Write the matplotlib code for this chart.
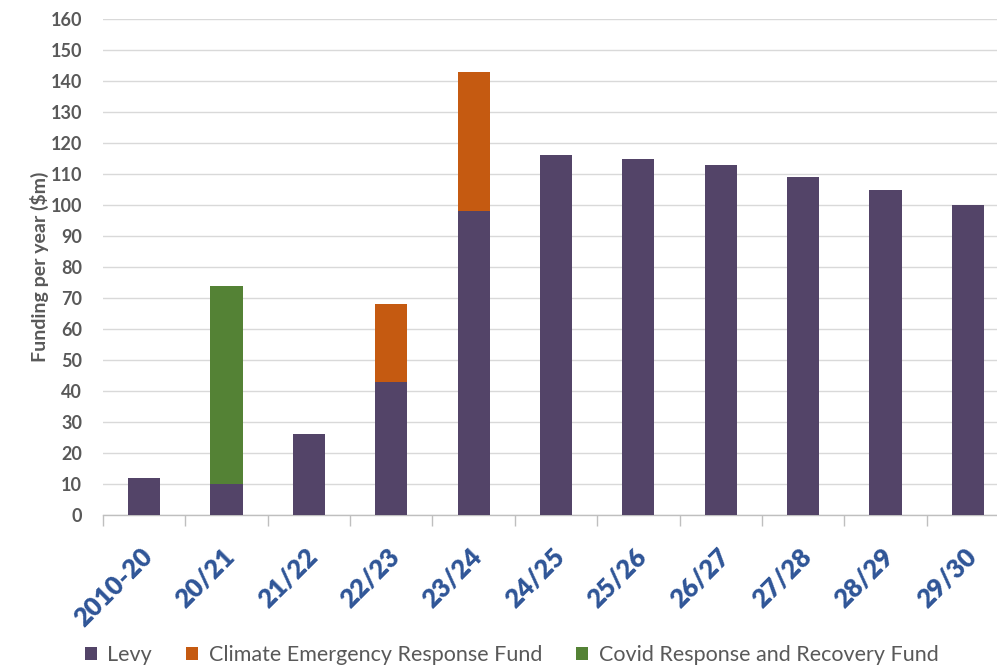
import matplotlib
matplotlib.use("Agg")
import matplotlib.pyplot as plt
import numpy as np
from matplotlib.ticker import FixedLocator
from matplotlib.transforms import ScaledTranslation

categories = ["2010-20", "20/21", "21/22", "22/23", "23/24", "24/25",
              "25/26", "26/27", "27/28", "28/29", "29/30"]
levy = [12, 10, 26, 43, 98, 116, 115, 113, 109, 105, 100]
climate = [0, 0, 0, 25, 45, 0, 0, 0, 0, 0, 0]
covid = [0, 64, 0, 0, 0, 0, 0, 0, 0, 0, 0]
series_names = ["Levy", "Climate Emergency Response Fund", "Covid Response and Recovery Fund"]
colors = ["#534468", "#C55A11", "#548235"]

plt.rcParams['font.family'] = ['Lato', 'DejaVu Sans']

fig = plt.figure(figsize=(9.97, 6.65), dpi=100)
ax = fig.add_axes([103 / 997, 1 - 515 / 665, 906 / 997, 496 / 665])

x = np.arange(len(categories))
w = 0.39
levy_a = np.array(levy)
clim_a = np.array(climate)
cov_a = np.array(covid)
ax.bar(x, levy_a, w, color=colors[0], label=series_names[0], zorder=3)
ax.bar(x, clim_a, w, bottom=levy_a, color=colors[1], label=series_names[1], zorder=3)
ax.bar(x, cov_a, w, bottom=levy_a + clim_a, color=colors[2], label=series_names[2], zorder=3)

ax.set_xlim(-0.5, len(categories) - 0.5)
ax.set_ylim(0, 160)
ax.set_yticks(np.arange(0, 161, 10))
ax.yaxis.grid(True, color="#D9D9D9", linewidth=1, zorder=0)
ax.set_axisbelow(True)

for s in ["top", "right", "left"]:
    ax.spines[s].set_visible(False)
ax.spines["bottom"].set_color("#BFBFBF")
ax.spines["bottom"].set_linewidth(1)

ax.tick_params(axis="y", length=0, pad=15, labelsize=13, labelcolor="#595959")
for lbl in ax.get_yticklabels():
    lbl.set_fontweight("bold")

ax.set_xticks(x)
ax.set_xticklabels(categories, rotation=45, ha="right", rotation_mode="anchor",
                   fontsize=18.5, fontweight="heavy", color="#2F5597")
ax.tick_params(axis="x", which="major", length=0, pad=21)
ax.xaxis.set_minor_locator(FixedLocator(np.arange(-0.5, len(categories), 1.0)))
ax.tick_params(axis="x", which="minor", length=8, color="#BFBFBF", width=1)
off = ScaledTranslation(-4 / 100, 0, fig.dpi_scale_trans)
for lbl in ax.get_xticklabels():
    lbl.set_transform(lbl.get_transform() + off)

ax.set_ylabel("Funding per year ($m)", fontsize=14, fontweight="bold", color="#595959", labelpad=1)

leg = fig.legend(loc="center left", bbox_to_anchor=(85 / 997, 1 - 655 / 665), ncol=3, frameon=False,
                 fontsize=15.5, handlelength=0.56, handleheight=0.56, handletextpad=0.47,
                 columnspacing=1.6, labelcolor="#595959", borderpad=0, borderaxespad=0)

fig.savefig("out.png", dpi=100)
